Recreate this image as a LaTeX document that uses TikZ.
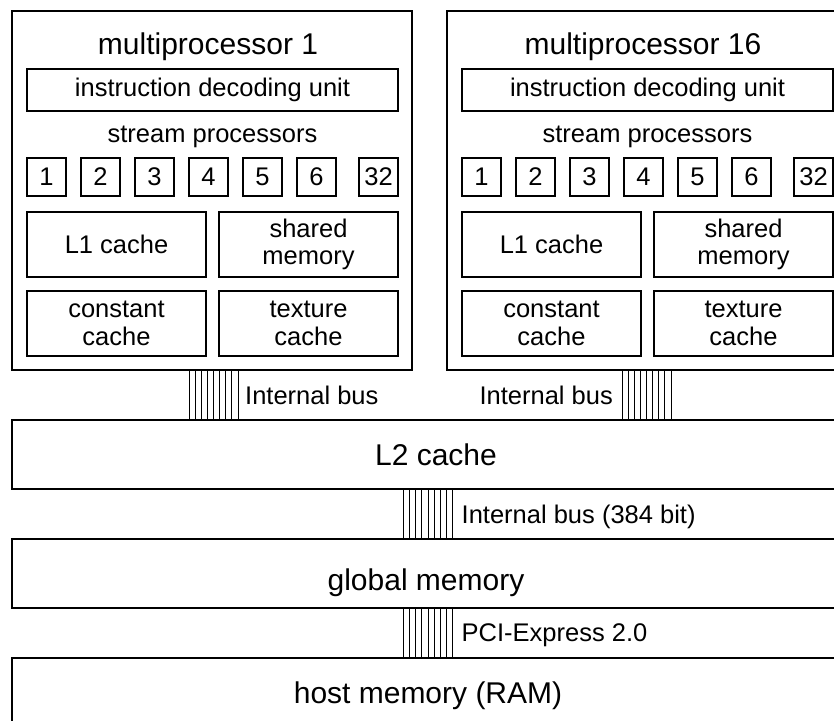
\documentclass[tikz,border=0pt]{standalone}
\usepackage{fontspec}
\setmainfont{Liberation Sans}
\usetikzlibrary{positioning, calc}

\begin{document}
\begin{tikzpicture}[x=1pt, y=-1pt, node distance=15pt]
\tikzstyle{box} = [draw, rectangle, line width=1.3pt, inner sep=0pt, outer sep=0pt, align=center]
\tikzstyle{bigtext} = [font=\fontsize{30}{33}\selectfont]
\tikzstyle{smalltext} = [font=\fontsize{25.5}{27.5}\selectfont]
\tikzstyle{bustext} = [smalltext, inner sep=0pt, text depth=0pt]
\tikzstyle{core} = [box, smalltext, minimum width=39pt, minimum height=38pt]
\tikzstyle{cache} = [box, smalltext, minimum width=179pt, minimum height=65pt]
\tikzstyle{layer} = [box, bigtext, minimum height=69pt, text height=21pt, text depth=0pt]
\tikzstyle{bus} = [inner sep=0pt, outer sep=0pt, minimum width=49pt, minimum height=50pt]
\tikzstyle{wire} = [line width=1pt]
\useasboundingbox (0,0) rectangle (834,720);
\clip (0,0) rectangle (834,720);

\foreach \dx/\n in {0/1, 435/16} {
\begin{scope}[xshift=\dx pt, name prefix=mp\n-]
\node[box, minimum width=400pt, minimum height=359pt] (outer) at (212,190.5) {};
\node[bigtext, anchor=base] (title) at (208,54) {multiprocessor \n};
\node[box, smalltext, minimum width=371pt, minimum height=42pt] (idu) at (212.5,90) {instruction decoding unit};
\node[smalltext, anchor=base] (sp) at (212.5,142) {stream processors};
\node[core] (c1) at (46.5,177) {1};
\node[core, right=of c1] (c2) {2};
\node[core, right=of c2] (c3) {3};
\node[core, right=of c3] (c4) {4};
\node[core, right=of c4] (c5) {5};
\node[core, right=of c5] (c6) {6};
\node[core, right=23pt of c6] (c32) {32};
\node[cache] (l1) at (116.5,244.5) {L1 cache};
\node[cache, right=13pt of l1] (shm) {shared\\memory};
\node[cache, below=14pt of l1] (const) {constant\\cache};
\node[cache, right=13pt of const] (tex) {texture\\cache};
\end{scope}
}

\node[layer, minimum width=848pt] (l2) at (436,454.5) {L2 cache};
\node[layer, minimum width=828pt, text height=33pt] (gmem) at (426,573.5) {global memory};
\node[layer, minimum width=832pt] (host) at (428,692.5) {host memory (RAM)};

\node[bus, label={[bustext, label distance=7pt]right:Internal bus}] (bus1) at (213.5,395) {};
\node[bus, label={[bustext, label distance=9pt]left:Internal bus}] (bus16) at (646.5,395) {};
\node[bus, label={[bustext, label distance=9pt]right:Internal bus (384 bit)}] (busgm) at (428,514) {};
\node[bus, label={[bustext, label distance=9pt]right:PCI-Express 2.0}] (buspci) at (428,633) {};

\foreach \b in {bus1, bus16, busgm, buspci}
  \foreach \i in {0,...,8}
    \draw[wire] ($(\b.north west)!\i/8!(\b.north east)$) -- ($(\b.south west)!\i/8!(\b.south east)$);
\end{tikzpicture}
\end{document}
